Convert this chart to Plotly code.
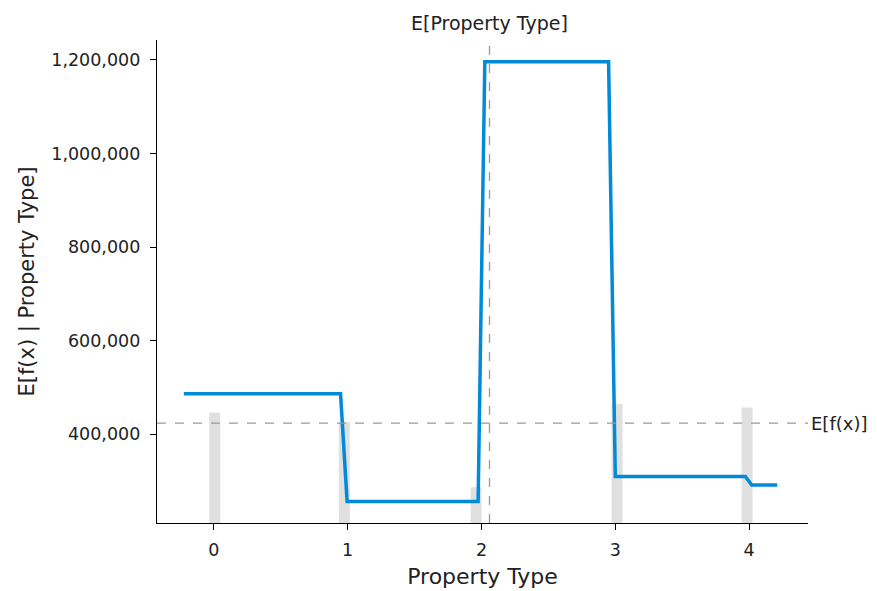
import plotly.graph_objects as go

# Partial dependence line (feature value -> expected model output)
pd_x = [-0.224, 0.947, 0.996, 1.975, 2.025, 2.95, 3.0, 3.972, 4.019, 4.21]
pd_y = [486000, 486000, 256000, 256000, 1196400, 1196400, 309400, 309400, 291000, 291000]

# Histogram of the feature values (relative heights on a hidden axis)
hist_x = [0.007, 0.975, 1.96, 3.013, 3.985]
hist_h = [0.229, 0.209, 0.074, 0.247, 0.239]

expected_fx = 423500
expected_feature = 2.06

y_ticks = [400000, 600000, 800000, 1000000, 1200000]
x_ticks = [0, 1, 2, 3, 4]

font = "DejaVu Sans"
txt = "#222222"

fig = go.Figure()
fig.add_trace(go.Bar(x=hist_x, y=hist_h, width=0.082, marker=dict(color="rgba(0,0,0,0.12)", line=dict(width=0)),
                     yaxis="y", showlegend=False, hoverinfo="skip"))
fig.add_trace(go.Scatter(x=pd_x, y=pd_y, mode="lines", line=dict(color="#008AD8", width=3.5),
                         yaxis="y2", showlegend=False))

fig.update_layout(
    width=869, height=583,
    margin=dict(l=149, r=69, t=32, b=68),
    paper_bgcolor="white", plot_bgcolor="white",
    font=dict(family=font, color=txt, size=17),
    xaxis=dict(range=[-0.4245, 4.44], tickvals=x_ticks, ticktext=[str(v) for v in x_ticks],
               showline=True, linecolor="black", linewidth=1.3, ticks="outside", ticklen=6,
               tickwidth=1.3, tickcolor="black", showgrid=False, zeroline=False,
               ticklabelstandoff=5, automargin=False,
               tickfont=dict(size=17.5, color=txt),
               title=dict(text="Property Type", font=dict(size=22, color=txt), standoff=9)),
    yaxis=dict(range=[0, 1], visible=False, fixedrange=True),
    yaxis2=dict(overlaying="y", side="left", anchor="x", range=[209800, 1242700],
                tickvals=y_ticks, tickformat=",d", showline=True, linecolor="black", linewidth=1.3,
                ticks="outside", ticklen=6, tickwidth=1.3, tickcolor="black",
                showgrid=False, zeroline=False, ticklabelstandoff=6, automargin=False,
                tickfont=dict(size=17.5, color=txt),
                title=dict(text="E[f(x) | Property Type]", font=dict(size=21, color=txt), standoff=10)),
    shapes=[
        dict(type="line", xref="paper", yref="y2", x0=0, x1=1, y0=expected_fx, y1=expected_fx,
             line=dict(color="#999999", width=1.3, dash="dash")),
        dict(type="line", xref="x", yref="paper", x0=expected_feature, x1=expected_feature, y0=0, y1=1,
             line=dict(color="#999999", width=1.3, dash="dash")),
    ],
    annotations=[
        dict(text="E[f(x)]", xref="paper", yref="y2", x=1.0, y=expected_fx, xanchor="left", yanchor="middle",
             xshift=1, showarrow=False, font=dict(size=18, color=txt)),
        dict(text="E[Property Type]", xref="x", yref="paper", x=expected_feature, y=1.0, xanchor="center",
             yanchor="bottom", yshift=4, showarrow=False, font=dict(size=19, color=txt)),
    ],
)

fig.write_html("out.html")
